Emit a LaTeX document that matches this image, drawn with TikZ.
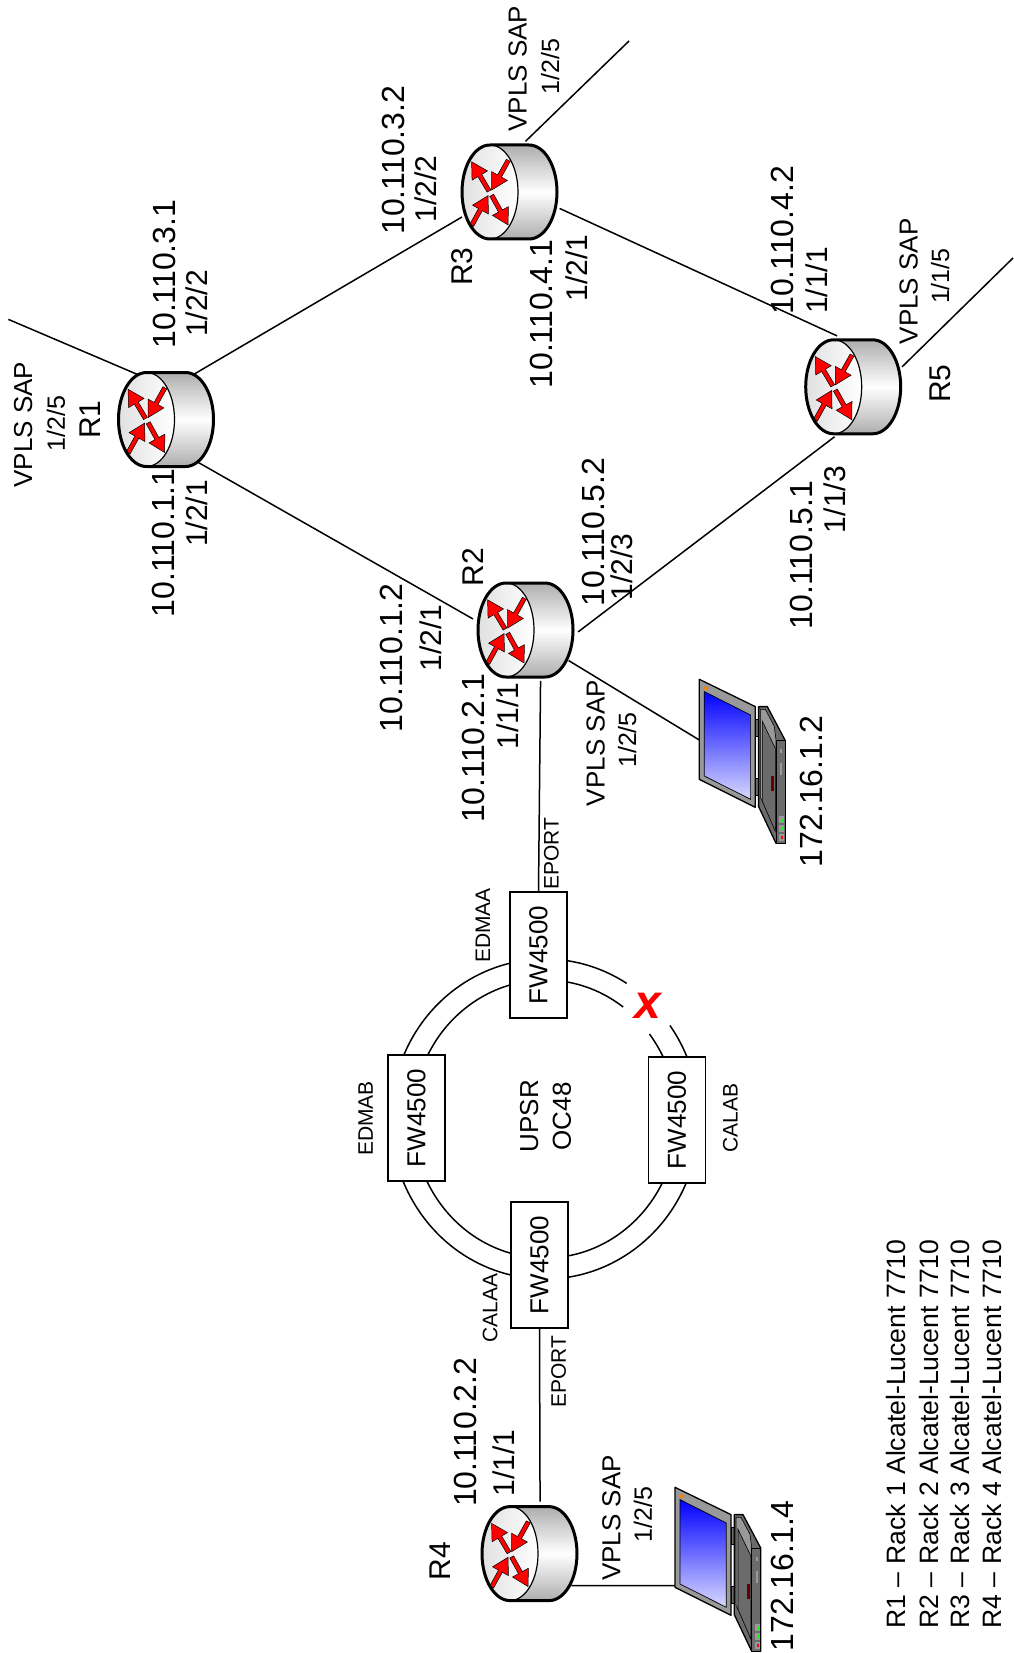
\documentclass[tikz,border=0pt]{standalone}
\usepackage{fontspec}
\setmainfont{Liberation Sans}
\usetikzlibrary{calc}
\definecolor{lapgray}{gray}{0.6}
\definecolor{lapdark}{gray}{0.42}
\tikzset{
  conn/.style={draw=black,line width=1.5pt},
  portnode/.style={circle,minimum size=106pt,inner sep=0pt,draw=none},
  lblA/.style={rotate=90,inner sep=0pt,font=\fontsize{30}{36}\selectfont},
  lblI/.style={rotate=90,inner sep=0pt,font=\fontsize{32}{38}\selectfont},
  lblB/.style={rotate=90,inner sep=0pt,font=\fontsize{25}{30}\selectfont},
  lblS/.style={rotate=90,inner sep=0pt,font=\fontsize{26}{31}\selectfont},
  lblC/.style={rotate=90,inner sep=0pt,font=\fontsize{21}{25}\selectfont},
  lblD/.style={rotate=90,inner sep=0pt,font=\fontsize{26}{31}\selectfont},
  lblE/.style={rotate=90,inner sep=0pt,anchor=west,font=\fontsize{26.6}{32}\selectfont},
  fwbox/.style={rotate=90,draw=black,line width=1.7pt,fill=white,minimum width=126pt,minimum height=57pt,inner sep=0pt,font=\fontsize{26}{31}\selectfont},
  ringline/.style={draw=black,line width=1.5pt},
  rarrowshape/.style={fill=red,draw=black,line width=0.5pt,line join=miter},
  lapline/.style={draw=black,line width=1.3pt,line join=round}
}
\newcommand{\rarrow}[3]{%
  \begin{scope}[shift={(#1,#2)},rotate=#3]
    \path[rarrowshape] (0,-2.2) -- (18,-2.2) -- (18,-9) -- (34,0) -- (18,9) -- (18,2.2) -- (0,2.2) -- cycle;
  \end{scope}}
\newcommand{\routerpic}[1]{%
  \begin{scope}[shift={(#1)}]
    \path[top color=black!32,bottom color=black!32,middle color=white]
      (-19,-47) -- (20,-47) arc[start angle=-90,end angle=90,x radius=28,y radius=47] -- (-19,47) -- cycle;
    \path[left color=black!12,right color=white,draw=black,line width=1.2pt] (-19,0) ellipse[x radius=28,y radius=47];
    \begin{scope}[shift={(-19,0)}]
      \rarrow{-1}{-1}{239.2}
      \rarrow{18.3}{-31.7}{119.2}
      \rarrow{-18.3}{33.3}{-61}
      \rarrow{1.7}{3.3}{61}
    \end{scope}
    \draw[line width=3pt,line join=round] (-19,-47) -- (20,-47) arc[start angle=-90,end angle=90,x radius=28,y radius=47] -- (-19,47) arc[start angle=90,end angle=270,x radius=28,y radius=47];
  \end{scope}}
\newcommand{\laptoppic}[1]{%
  \begin{scope}[shift={(#1)}]
    \path[fill=lapdark,draw=black,line width=0.8pt] (56,40) rectangle (60,57.3);
    \path[fill=lapdark,draw=black,line width=0.8pt] (56,99) rectangle (60,115.7);
    \path[lapline,fill=lapgray] (0,0) -- (56,27.3) -- (56,128) -- (0,100) -- cycle;
    \shade[shading=axis,shading angle=-45,top color=blue,middle color=blue!85!white,bottom color=blue!15!white] (5,12.3) -- (51.3,35.7) -- (51.3,120) -- (5,96.7) -- cycle;
    \draw[black,line width=0.7pt] (5,12.3) -- (51.3,35.7) -- (51.3,120) -- (5,96.7) -- cycle;
    \fill[orange] (6.7,9) circle[radius=2];
    \path[lapline,fill=lapdark] (59.3,27.3) -- (68,27.3) -- (85.7,60.7) -- (85.7,164) -- (76.7,164) -- (59.3,127.3) -- cycle;
    \path[fill=lapgray,draw=black,line width=0.6pt] (61,30) -- (66,30) -- (75,47) -- (76.7,60.7) -- (76.7,150) -- (61,118) -- cycle;
    \path[fill=lapdark,draw=black,line width=0.6pt] (63,42) -- (76,69) -- (76,152) -- (63,122) -- cycle;
    \path[fill=lapdark,draw=black,line width=1pt] (76.7,60.7) -- (85.7,60.7) -- (85.7,164) -- (76.7,164) -- cycle;
    \fill[black!60!red] (72,97) rectangle (75,112);
    \fill[lapgray] (81,70) rectangle (83,74);
    \fill[lapgray] (81,84) rectangle (83,96);
    \fill[lapgray] (79.5,137) rectangle (84.5,144);
    \fill[lapgray] (79.5,146) rectangle (84.5,153);
    \fill[lapgray] (79.5,155) rectangle (84.5,162);
    \fill[green] (81.5,139.5) rectangle (83.8,142.5);
    \fill[green] (81.5,148) rectangle (83.8,151);
    \fill[red] (81.5,157) rectangle (83.8,160);
  \end{scope}}
\begin{document}
\begin{tikzpicture}[x=1pt,y=1pt,yscale=-1]
\path[use as bounding box,fill=white] (0,0) rectangle (1013,1653);

% named anchors
\node[portnode] (R1) at (165.5,419.5) {};
\node[portnode] (R3) at (509,192) {};
\node[portnode] (R5) at (852.7,386.8) {};
\node[portnode] (R2) at (525,630) {};
\node[portnode] (R4) at (529,1553.6) {};
\coordinate (sap1) at (8.4,319.4);
\coordinate (sap3) at (629,41);
\coordinate (sap5) at (1013,258);
\coordinate (lap1) at (699.3,740);
\coordinate (lap2) at (675,1585.5);

% ring
\draw[ringline] ([shift={(-35.8:154 and 160)}]545,1119) arc[start angle=-35.8,end angle=302,x radius=154,y radius=160];
\draw[ringline] ([shift={(-37.7:132 and 139)}]545,1119) arc[start angle=-37.7,end angle=306.3,x radius=132,y radius=139];

% boxes
\node[fwbox] (FWa) at (538.5,955) {FW4500};
\node[fwbox] (FWb) at (416.5,1118) {FW4500};
\node[fwbox] (FWc) at (677,1120) {FW4500};
\node[fwbox] (FWd) at (539.5,1265) {FW4500};

% connectors
\draw[conn] (R1.122) -- (sap1);
\draw[conn] (R1.58.7) -- (R3.208.2);
\draw[conn] (R1.-53.6) -- (R2.168.3);
\draw[conn] (R3.72.9) -- (sap3);
\draw[conn] (R3.-18.6) -- (R5.107.6);
\draw[conn] (R5.22.8) -- (sap5);
\draw[conn] (R5.-110.2) -- (R2.-2);
\draw[conn] (R2.-35.2) -- (lap1);
\draw[conn] (R2.-73) -- (FWa.east);
\draw[conn] (FWd.west) -- (R4.78.8);
\draw[conn] (R4.-37) -- (lap2);

% routers
\routerpic{R1}
\routerpic{R3}
\routerpic{R5}
\routerpic{R2}
\routerpic{R4}

% laptops
\laptoppic{699.3,679.3}
\laptoppic{675,1487.3}

% labels (coordinates in the 961-wide reference view)
\begin{scope}[scale=1.0541]
\node[lblS] (t1) at (22,403) {VPLS SAP};
\node[lblB] (t2) at (53,402) {1/2/5};
\node[lblA] (t3) at (86,398) {R1};
\node[lblI] (t4) at (156,260) {10.110.3.1};
\node[lblA] (t5) at (187,288) {1/2/2};
\node[lblI] (t6) at (155,515) {10.110.1.1};
\node[lblA] (t7) at (187,487) {1/2/1};
\node[lblI] (t8) at (373,152) {10.110.3.2};
\node[lblA] (t9) at (404,179) {1/2/2};
\node[lblS] (t10) at (491,65) {VPLS SAP};
\node[lblB] (t11) at (522,63) {1/2/5};
\node[lblA] (t12) at (438,253) {R3};
\node[lblI] (t13) at (514,298) {10.110.4.1};
\node[lblA] (t14) at (547,254) {1/2/1};
\node[lblI] (t15) at (742,228) {10.110.4.2};
\node[lblA] (t16) at (775,266) {1/1/1};
\node[lblS] (t17) at (862,267) {VPLS SAP};
\node[lblB] (t18) at (892,262) {1/1/5};
\node[lblA] (t19) at (892,364) {R5};
\node[lblI] (t20) at (760,527) {10.110.5.1};
\node[lblA] (t21) at (792,474) {1/1/3};
\node[lblI] (t22) at (563,505) {10.110.5.2};
\node[lblA] (t23) at (590,538) {1/2/3};
\node[lblA] (t24) at (449,538) {R2};
\node[lblI] (t25) at (371,624) {10.110.1.2};
\node[lblA] (t26) at (409,605) {1/2/1};
\node[lblI] (t27) at (449,710) {10.110.2.1};
\node[lblA] (t28) at (482,679) {1/1/1};
\node[lblS] (t29) at (565,705) {VPLS SAP};
\node[lblB] (t30) at (595,702) {1/2/5};
\node[lblI] (t31) at (770,751) {172.16.1.2};
\node[lblC] (t32) at (523,810) {EPORT};
\node[lblC] (t33) at (458,878) {EDMAA};
\node[lblC] (t34) at (347,1061) {EDMAB};
\node[lblD] (t35) at (502,1059) {UPSR};
\node[lblD] (t36) at (533,1059) {OC48};
\node[lblC] (t37) at (693,1061) {CALAB};
\node[lblC] (t38) at (465,1241) {CALAA};
\node[lblC] (t39) at (530,1301) {EPORT};
\node[lblI] (t40) at (442,1359) {10.110.2.2};
\node[lblA] (t41) at (478,1388) {1/1/1};
\node[lblA] (t42) at (418,1481) {R4};
\node[lblS] (t43) at (580,1440) {VPLS SAP};
\node[lblB] (t44) at (610,1437) {1/2/5};
\node[lblI] (t45) at (742,1495) {172.16.1.4};
\node[lblE] (t46) at (850,1545) {R1 – Rack 1 Alcatel-Lucent 7710};
\node[lblE] (t47) at (881,1545) {R2 – Rack 2 Alcatel-Lucent 7710};
\node[lblE] (t48) at (911,1545) {R3 – Rack 3 Alcatel-Lucent 7710};
\node[lblE] (t49) at (941,1545) {R4 – Rack 4 Alcatel-Lucent 7710};
\node[inner sep=0pt,text=red,font=\fontsize{48}{54}\bfseries\itshape\selectfont] (t50) at (615,954) {x};
\end{scope}
\end{tikzpicture}
\end{document}
